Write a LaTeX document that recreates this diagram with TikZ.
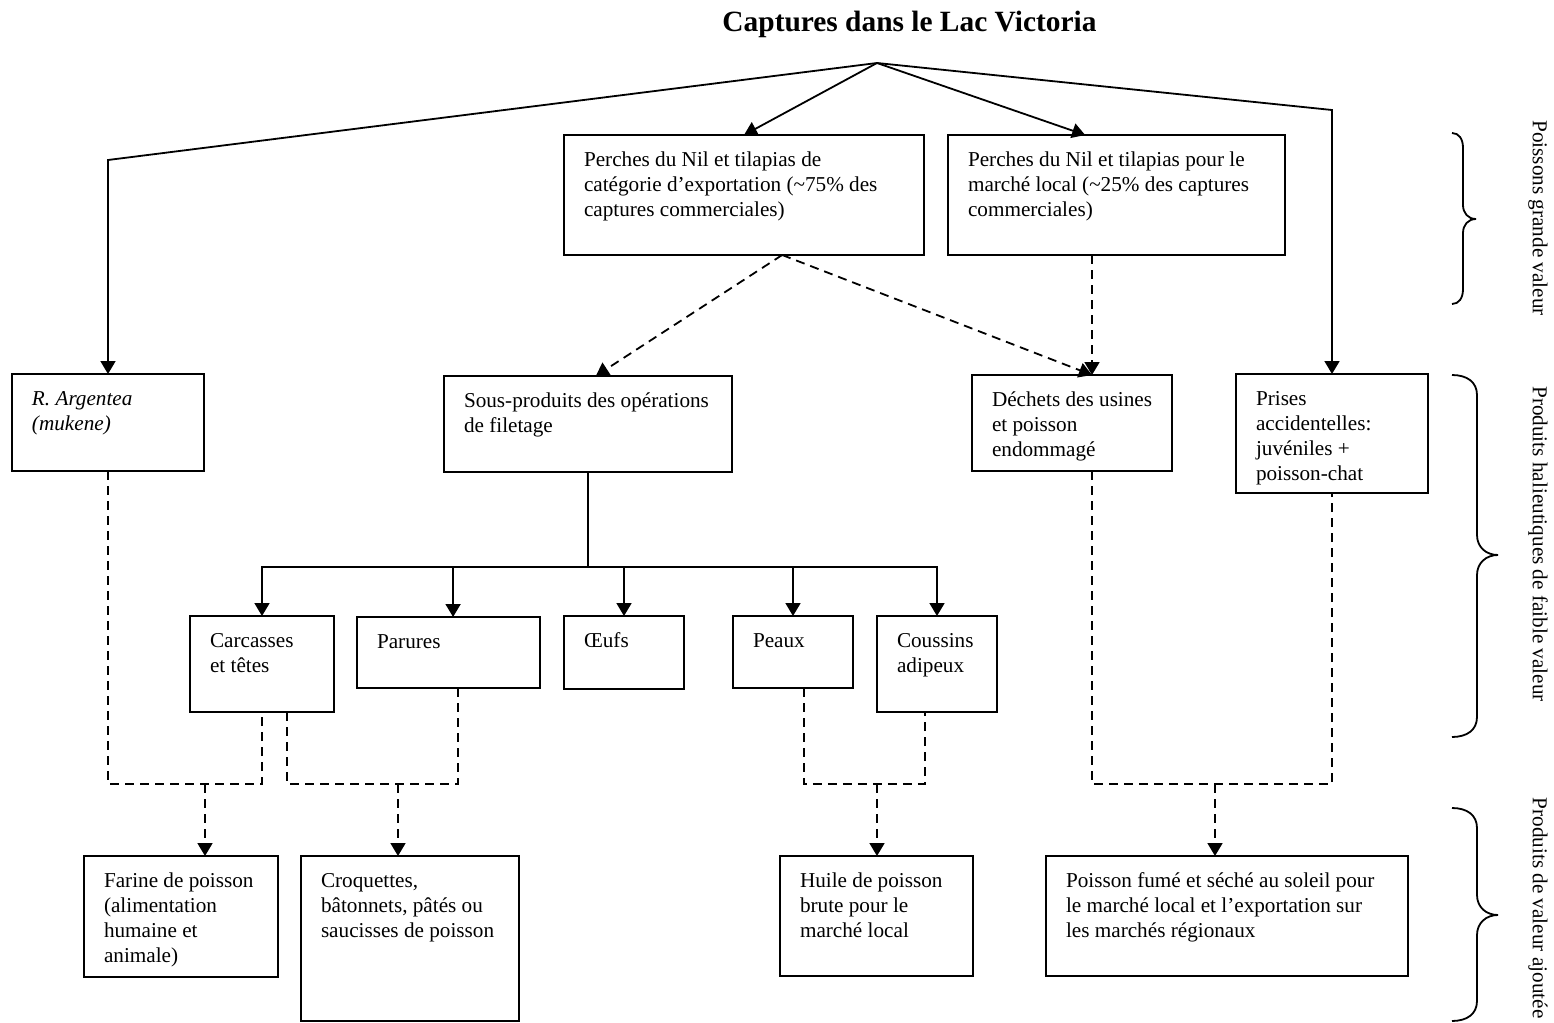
\documentclass[tikz,border=0pt]{standalone}
\usepackage{fontspec}
\setmainfont{Liberation Serif}
\usetikzlibrary{arrows.meta,calc}
\tikzset{
  boxst/.style={draw, line width=1pt, inner sep=0pt, outer sep=0pt},
  txt/.style={inner sep=0pt, outer sep=0pt, align=left, anchor=north west, font=\fontsize{10.6}{12.5}\selectfont},
  conn/.style={line width=0.9pt},
  arr/.style={conn, -{Triangle[length=6.5pt,width=7.5pt]}},
  dsh/.style={conn, dash pattern=on 4.5pt off 3pt},
  darr/.style={dsh, -{Triangle[length=6.5pt,width=7.5pt]}},
  sidelab/.style={rotate=-90, inner sep=0pt, font=\fontsize{10.6}{12.5}\selectfont},
  bracest/.style={line width=0.9pt},
}
\newcommand\mybox[6]{%
  \node[boxst, anchor=north west, minimum width={(#4-#2)*0.5pt}, minimum height={(#5-#3)*0.5pt}] (#1) at (#2,#3) {};
  \node[txt] (#1-t) at (#2+20,#3+13.5) {\strut #6};
}
\begin{document}
\begin{tikzpicture}[x=0.5pt,y=-0.5pt]
\fill[white] (0,0) rectangle (1554,1023);
\useasboundingbox (0,0) rectangle (1554,1023);

\node[font=\bfseries\fontsize{14.7}{17}\selectfont, anchor=base, inner sep=0pt] (title) at (909.5,31) {Captures dans le Lac Victoria};

\mybox{expo}{564}{135}{924}{255}{Perches du Nil et tilapias de\\catégorie d’exportation (\textasciitilde75\% des\\captures commerciales)}
\mybox{local}{948}{135}{1285}{255}{Perches du Nil et tilapias pour le\\marché local (\textasciitilde25\% des captures\\commerciales)}
\mybox{argentea}{12}{374}{204}{471}{\textit{R. Argentea}\\\textit{(mukene)}}
\mybox{sous}{444}{376}{732}{472}{Sous-produits des opérations\\de filetage}
\mybox{dechets}{972}{375}{1172}{471}{Déchets des usines\\et poisson\\endommagé}
\mybox{prises}{1236}{374}{1428}{493}{Prises\\accidentelles:\\juvéniles +\\poisson-chat}
\mybox{carc}{190}{616}{334}{712}{Carcasses\\et têtes}
\mybox{parures}{357}{617}{540}{688}{Parures}
\mybox{oeufs}{564}{616}{684}{689}{Œufs}
\mybox{peaux}{733}{616}{853}{688}{Peaux}
\mybox{coussins}{877}{616}{997}{712}{Coussins\\adipeux}
\mybox{farine}{84}{856}{278}{977}{Farine de poisson\\(alimentation\\humaine et\\animale)}
\mybox{croq}{301}{856}{519}{1021}{Croquettes,\\bâtonnets, pâtés ou\\saucisses de poisson}
\mybox{huile}{780}{856}{973}{976}{Huile de poisson\\brute pour le\\marché local}
\mybox{fume}{1046}{856}{1408}{976}{Poisson fumé et séché au soleil pour\\le marché local et l’exportation sur\\les marchés régionaux}

% top connectors
\coordinate (root) at (877,63);
\coordinate (bendL) at (108,160);
\coordinate (bendR) at (1332,110);
\draw[arr] (root) -- (bendL) -- (argentea.north);
\draw[arr] (root) -- (expo.north);
\draw[arr] (root) -- ($(local.north west)!0.407!(local.north east)$);
\draw[arr] (root) -- (bendR) -- (prises.north);

% dashed from export / local
\coordinate (ex) at ($(expo.south west)!0.606!(expo.south east)$);
\coordinate (din) at ($(dechets.north west)!0.6!(dechets.north east)$);
\draw[darr] (ex) -- ($(sous.north west)!0.527!(sous.north east)$);
\draw[darr] (ex) -- (din);
\draw[darr] (local.south -| din) -- (din);

% sous-produits tree
\coordinate (bar) at (588,567);
\draw[conn] (sous.south) -- (bar);
\foreach \n in {carc,oeufs,peaux,coussins} \draw[arr] (bar) -| (\n.north);
\draw[arr] (bar) -| ($(parures.north west)!0.525!(parures.north east)$);

% bottom dashed connectors
\coordinate (jF) at (205,784);
\coordinate (jC) at (398,784);
\coordinate (jH) at (877,784);
\coordinate (jP) at (1215,784);
\draw[dsh] (argentea.south) |- (jF) -| (carc.south);
\draw[darr] (jF) -- (jF |- farine.north);
\draw[dsh] ([xshift=12.5pt]carc.south) |- (jC) -| ($(parures.south west)!0.55!(parures.south east)$);
\draw[darr] (jC) -- (jC |- croq.north);
\draw[dsh] ($(peaux.south west)!0.59!(peaux.south east)$) |- (jH) -| ($(coussins.south west)!0.4!(coussins.south east)$);
\draw[darr] (jH) -- (jH |- huile.north);
\draw[dsh] (dechets.south -| din) |- (jP) -| (prises.south);
\draw[darr] (jP) -- (jP |- fume.north);

% braces
\draw[bracest] (1452,133) .. controls (1459,133) and (1463,139) .. (1463,148) -- (1463,205) .. controls (1463,213) and (1468,219) .. (1476,219) .. controls (1468,219) and (1463,225) .. (1463,233) -- (1463,289) .. controls (1463,298) and (1459,304) .. (1452,304);
\draw[bracest] (1452,375) .. controls (1467,375) and (1477,382) .. (1477,395) -- (1477,535) .. controls (1477,547) and (1486,555) .. (1498,555) .. controls (1486,555) and (1477,563) .. (1477,575) -- (1477,717) .. controls (1477,730) and (1467,737) .. (1452,737);
\draw[bracest] (1452,808) .. controls (1467,808) and (1477,815) .. (1477,828) -- (1477,895) .. controls (1477,907) and (1486,915) .. (1498,915) .. controls (1486,915) and (1477,923) .. (1477,935) -- (1477,1001) .. controls (1477,1014) and (1467,1021) .. (1452,1021);

\node[sidelab] (lab1) at (1538,218) {Poissons grande valeur};
\node[sidelab] (lab2) at (1538,544) {Produits halieutiques de faible valeur};
\node[sidelab] (lab3) at (1538,908) {Produits de valeur ajoutée};
\end{tikzpicture}
\end{document}
